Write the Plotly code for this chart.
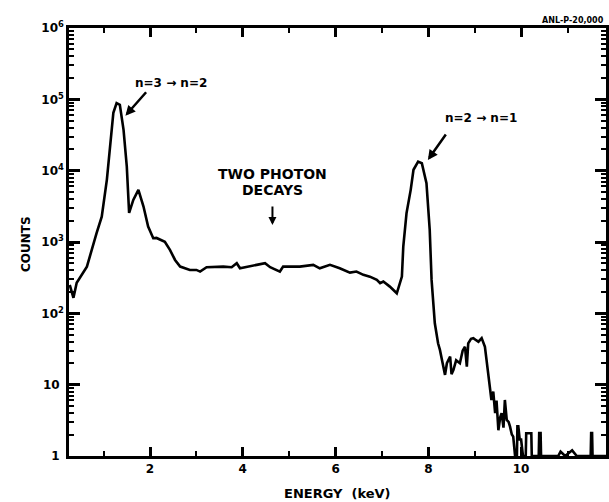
import plotly.graph_objects as go

# Spectrum trace (energy in keV, counts)
energy = [0.27, 0.35, 0.42, 0.64, 0.85, 0.96, 1.07, 1.14, 1.21, 1.28, 1.35, 1.43, 1.50, 1.55,
          1.64, 1.75, 1.86, 1.96, 2.07, 2.14, 2.32, 2.43, 2.54, 2.65, 2.79, 2.86, 3.00, 3.08,
          3.22, 3.58, 3.76, 3.87, 3.94, 4.16, 4.30, 4.48, 4.59, 4.80, 4.87, 5.23, 5.52, 5.66,
          5.88, 6.09, 6.31, 6.45, 6.60, 6.74, 6.89, 6.96, 7.03, 7.17, 7.32, 7.43, 7.46, 7.53,
          7.62, 7.68, 7.78, 7.86, 7.96, 8.03, 8.07, 8.14, 8.21, 8.25, 8.29, 8.32, 8.36, 8.40,
          8.47, 8.50, 8.54, 8.60, 8.68, 8.74, 8.79, 8.83, 8.86, 8.92, 8.97, 9.03, 9.08, 9.15,
          9.22, 9.29, 9.33, 9.36, 9.40, 9.44, 9.47, 9.51, 9.55, 9.58, 9.62, 9.65, 9.69, 9.73,
          9.76, 9.80, 9.83, 9.87, 9.91, 9.92, 9.94, 9.97, 10.00, 10.04, 10.10, 10.11, 10.22,
          10.23, 10.38, 10.39, 10.42, 10.43, 10.80, 10.85, 10.95, 11.10, 11.20, 11.50, 11.51,
          11.53, 11.54, 11.83]
counts = [250, 165, 268, 452, 1340, 2270, 7430, 21800, 64700, 88500, 83800, 37400, 11400, 2560,
          3890, 5380, 3140, 1645, 1130, 1140, 1010, 775, 560, 452, 416, 406, 406, 385,
          443, 452, 443, 504, 428, 452, 478, 504, 443, 385, 452, 452, 478, 428,
          478, 428, 372, 385, 346, 327, 294, 264, 279, 237, 191, 327, 862, 2540,
          5380, 10300, 13400, 12700, 6680, 1480, 294, 72.6, 38, 30.7, 22, 17.9, 13.7, 20,
          24.7, 14, 16, 22, 20, 30, 34, 17.9, 38, 44, 44.9, 42, 40, 44.9,
          34, 14.4, 9, 6.1, 8, 4.0, 6, 2.3, 3.5, 4.0, 2.5, 6.1, 3.2, 3.0,
          2.6, 2.0, 1.87, 1.0, 1.0, 2.6, 2.6, 1.7, 1.7, 1.0, 1.0, 2.08, 2.08,
          1.0, 1.0, 2.1, 2.1, 1.0, 1.0, 1.15, 1.0, 1.2, 1.0, 1.0, 2.1,
          2.1, 1.0, 1.0]

x_range = [0.254, 11.83]
x_tick_vals = [2, 4, 6, 8, 10]
x_tick_text = ["2", "4", "6", "8", "10"]
x_minor_vals = [1, 3, 5, 7, 9, 11]
y_tick_vals = [1, 10, 100, 1000, 10000, 100000, 1000000]
y_tick_text = ["1 ", "10 ", "10<sup>2</sup>", "10<sup>3</sup>", "10<sup>4</sup>",
               "10<sup>5</sup>", "10<sup>6</sup>"]
y_minor_vals = [m * 10 ** d for d in range(6) for m in range(2, 10)]

FONT = "DejaVu Sans"

fig = go.Figure()
fig.add_trace(go.Scatter(x=energy, y=counts, mode="lines",
                         line=dict(color="black", width=2.6), showlegend=False))

fig.update_xaxes(range=x_range, tickmode="array", tickvals=x_tick_vals,
                 ticktext=x_tick_text, ticks="inside", ticklen=9, tickwidth=2.5,
                 tickcolor="black", showline=True, linewidth=2.5, linecolor="black",
                 mirror="ticks", showgrid=False, zeroline=False,
                 tickfont=dict(size=12, family=FONT, weight="bold"),
                 minor=dict(tickmode="array", tickvals=x_minor_vals, ticks="inside",
                            ticklen=5, tickwidth=2, tickcolor="black", showgrid=False))
fig.update_yaxes(type="log", range=[0, 6], tickmode="array", tickvals=y_tick_vals,
                 ticktext=y_tick_text, ticks="inside", ticklen=11, tickwidth=2.5,
                 tickcolor="black", showline=True, linewidth=2.5, linecolor="black",
                 mirror="ticks", showgrid=False, zeroline=False,
                 tickfont=dict(size=12, family=FONT, weight="bold"),
                 minor=dict(tickmode="array", tickvals=y_minor_vals, ticks="inside",
                            ticklen=5, tickwidth=2, tickcolor="black", showgrid=False))

fig.update_layout(
    template="none",
    width=609, height=502,
    margin=dict(l=69, r=3, t=28, b=46),
    paper_bgcolor="white", plot_bgcolor="white",
    font=dict(family=FONT, color="black"),
)

ann_font = dict(family=FONT, size=12, color="black", weight="bold")
big_font = dict(family=FONT, size=14, color="black", weight="bold")
# text labels
fig.add_annotation(x=2.45, y=5.23, xref="x", yref="y", text="n=3 → n=2",
                   showarrow=False, font=ann_font)
fig.add_annotation(x=9.13, y=4.74, xref="x", yref="y", text="n=2 → n=1",
                   showarrow=False, font=ann_font)
fig.add_annotation(x=4.64, y=3.96, xref="x", yref="y", text="TWO PHOTON",
                   showarrow=False, font=big_font)
fig.add_annotation(x=4.64, y=3.73, xref="x", yref="y", text="DECAYS",
                   showarrow=False, font=big_font)
# arrows
fig.add_annotation(x=1.47, y=4.77, xref="x", yref="y", text="", showarrow=True,
                   ax=22, ay=-25, arrowhead=2, arrowsize=0.8, arrowwidth=2.5, arrowcolor="black")
fig.add_annotation(x=7.99, y=4.15, xref="x", yref="y", text="", showarrow=True,
                   ax=19, ay=-27, arrowhead=2, arrowsize=0.8, arrowwidth=2.5, arrowcolor="black")
fig.add_annotation(x=4.64, y=3.24, xref="x", yref="y", text="", showarrow=True,
                   ax=0, ay=-20, arrowhead=2, arrowsize=0.8, arrowwidth=2, arrowcolor="black")
# axis titles and figure id
fig.add_annotation(x=(337 - 69) / 537, y=-(493 - 456) / 428, xref="paper", yref="paper",
                   text="ENERGY  (keV)", showarrow=False, yanchor="middle",
                   font=dict(family=FONT, size=13, color="black", weight="bold"))
fig.add_annotation(x=(17 - 69) / 537, y=(456 - 244) / 428, xref="paper", yref="paper",
                   text="COUNTS", showarrow=False, textangle=-90,
                   font=dict(family=FONT, size=12, color="black", weight="bold"))
fig.add_annotation(x=1.0, y=(456 - 14) / 428, xref="paper", yref="paper",
                   text="ANL-P-20,000", showarrow=False, xanchor="right",
                   font=dict(family=FONT, size=8, color="black", weight="bold"))

fig.write_html("out.html", config={"displayModeBar": False},
               post_script="document.body.style.margin='0';")
